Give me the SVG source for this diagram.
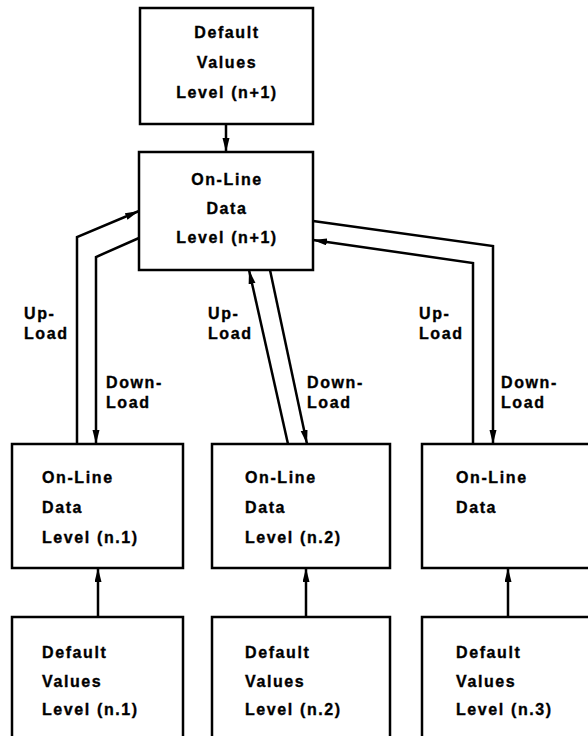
<svg xmlns="http://www.w3.org/2000/svg" width="588" height="736" viewBox="0 0 588 736">
  <style>
    .box { fill: #fff; stroke: #000; stroke-width: 2.5; }
    .t { font-family: "Liberation Sans", Arial, sans-serif; font-weight: bold; font-size: 16px; letter-spacing: 1.6px; fill: #000; stroke: #000; stroke-width: 0.35px; }
    .c { text-anchor: middle; }
    .wire { fill: none; stroke: #000; stroke-width: 2.5; stroke-linejoin: miter; }
  </style>
  <defs>
    <marker id="head" markerUnits="userSpaceOnUse" markerWidth="16" markerHeight="8" refX="14" refY="3.5" orient="auto">
      <path d="M0,0 L14,3.5 L0,7 z" fill="#000"/>
    </marker>
  </defs>
  <rect width="588" height="736" fill="#fff"/>

  <!-- top: defaults feeding the n+1 on-line data -->
  <g id="default-n1">
    <rect class="box" x="140" y="8" width="173" height="116"/>
    <text class="t c" x="227" y="38">Default</text>
    <text class="t c" x="227" y="68">Values</text>
    <text class="t c" x="227" y="98">Level (n+1)</text>
  </g>
  <g id="online-n1">
    <rect class="box" x="139" y="152" width="174" height="118"/>
    <text class="t c" x="227" y="185">On-Line</text>
    <text class="t c" x="227" y="214">Data</text>
    <text class="t c" x="227" y="243">Level (n+1)</text>
  </g>

  <!-- middle row: on-line data per node -->
  <g id="online-1">
    <rect class="box" x="12" y="444" width="171" height="124"/>
    <text class="t" x="42" y="483">On-Line</text>
    <text class="t" x="42" y="513">Data</text>
    <text class="t" x="42" y="543">Level (n.1)</text>
  </g>
  <g id="online-2">
    <rect class="box" x="212" y="444" width="178" height="124"/>
    <text class="t" x="245" y="483">On-Line</text>
    <text class="t" x="245" y="513">Data</text>
    <text class="t" x="245" y="543">Level (n.2)</text>
  </g>
  <g id="online-3">
    <rect class="box" x="422" y="444" width="180" height="124"/>
    <text class="t" x="456" y="483">On-Line</text>
    <text class="t" x="456" y="513">Data</text>
  </g>

  <!-- bottom row: default values per node -->
  <g id="default-1">
    <rect class="box" x="12" y="617" width="171" height="130"/>
    <text class="t" x="42" y="658">Default</text>
    <text class="t" x="42" y="687">Values</text>
    <text class="t" x="42" y="715">Level (n.1)</text>
  </g>
  <g id="default-2">
    <rect class="box" x="212" y="617" width="178" height="130"/>
    <text class="t" x="245" y="658">Default</text>
    <text class="t" x="245" y="687">Values</text>
    <text class="t" x="245" y="715">Level (n.2)</text>
  </g>
  <g id="default-3">
    <rect class="box" x="422" y="617" width="180" height="130"/>
    <text class="t" x="456" y="658">Default</text>
    <text class="t" x="456" y="687">Values</text>
    <text class="t" x="456" y="715">Level (n.3)</text>
  </g>

  <g id="connectors">
    <line class="wire" x1="226" y1="124" x2="226" y2="152" marker-end="url(#head)"/>
    <!-- left branch -->
    <polyline class="wire" points="77,444 77,237 139,211" marker-end="url(#head)"/>
    <polyline class="wire" points="139,238 96,257 96,444" marker-end="url(#head)"/>
    <!-- centre branch -->
    <line class="wire" x1="288" y1="444" x2="249" y2="270" marker-end="url(#head)"/>
    <line class="wire" x1="270" y1="270" x2="307" y2="444" marker-end="url(#head)"/>
    <!-- right branch -->
    <polyline class="wire" points="313,221 493,246 493,444" marker-end="url(#head)"/>
    <polyline class="wire" points="473,444 473,263 313,240" marker-end="url(#head)"/>
    <!-- defaults up into on-line data -->
    <line class="wire" x1="98" y1="617" x2="98" y2="568" marker-end="url(#head)"/>
    <line class="wire" x1="306" y1="617" x2="306" y2="568" marker-end="url(#head)"/>
    <line class="wire" x1="508" y1="617" x2="508" y2="568" marker-end="url(#head)"/>
  </g>

  <g id="labels">
    <text class="t" x="24" y="319">Up-</text>
    <text class="t" x="24" y="339">Load</text>
    <text class="t" x="106" y="388">Down-</text>
    <text class="t" x="106" y="408">Load</text>
    <text class="t" x="208" y="319">Up-</text>
    <text class="t" x="208" y="339">Load</text>
    <text class="t" x="307" y="388">Down-</text>
    <text class="t" x="307" y="408">Load</text>
    <text class="t" x="419" y="319">Up-</text>
    <text class="t" x="419" y="339">Load</text>
    <text class="t" x="501" y="388">Down-</text>
    <text class="t" x="501" y="408">Load</text>
  </g>
</svg>
